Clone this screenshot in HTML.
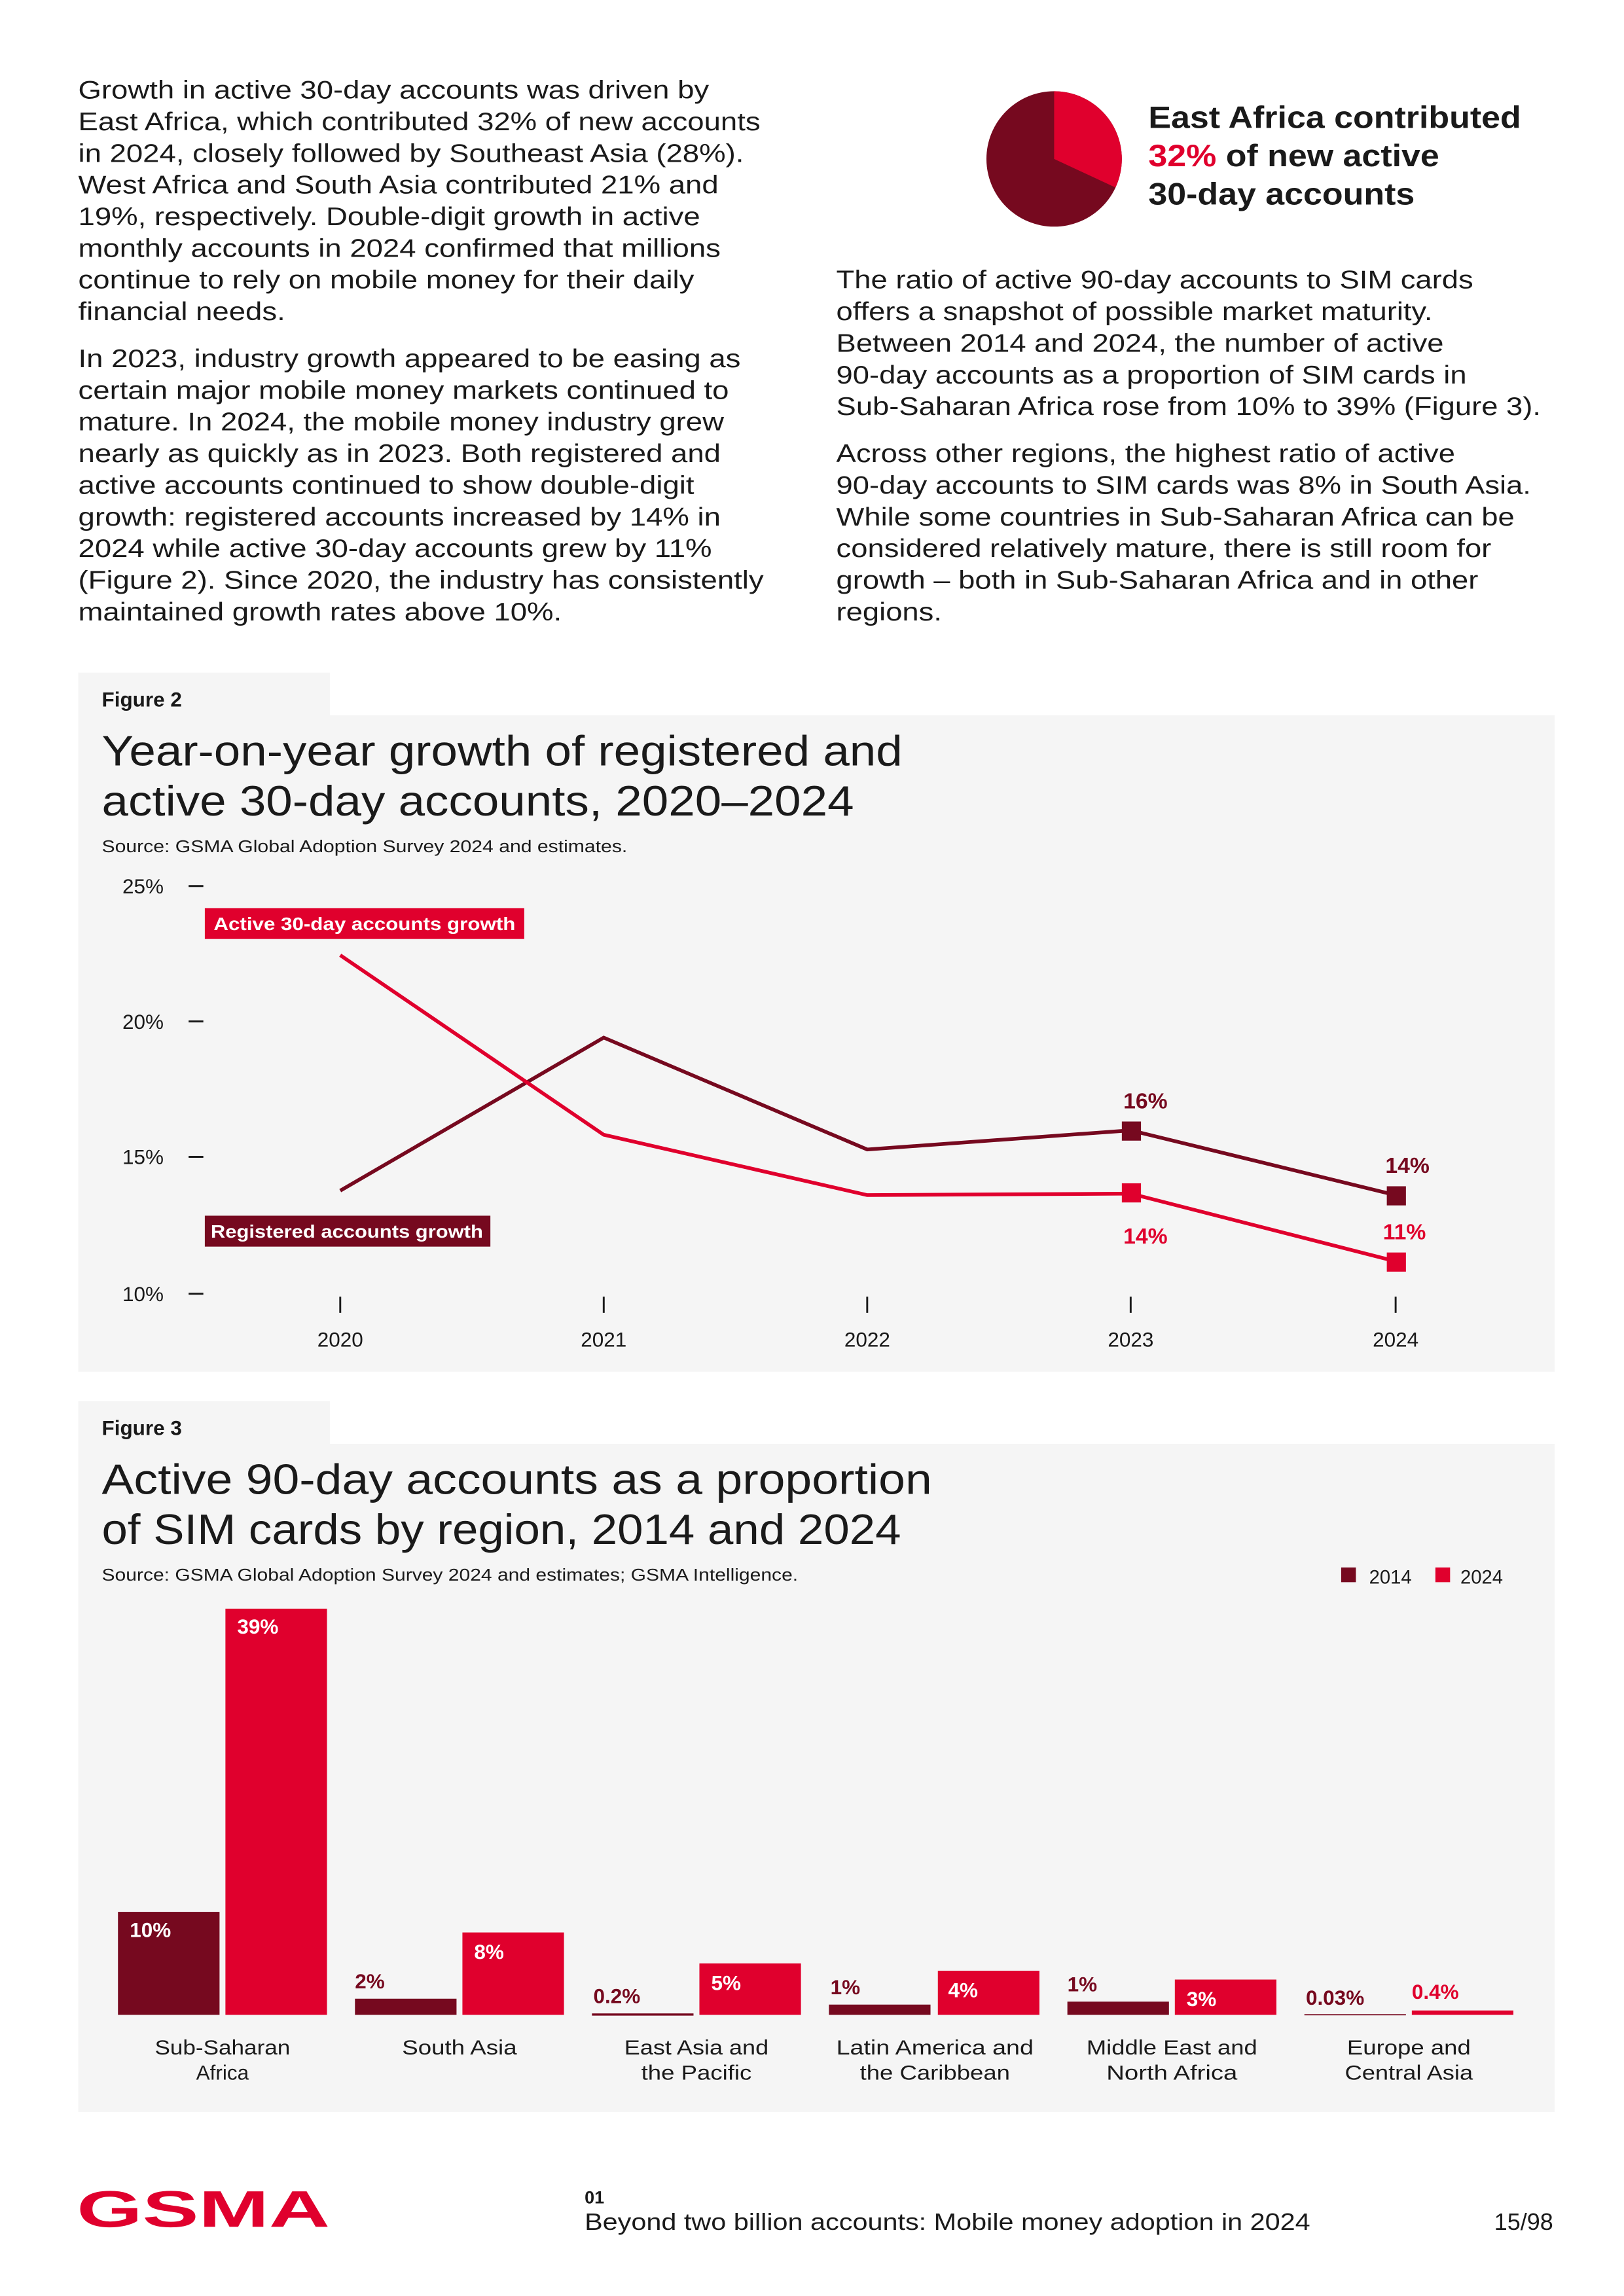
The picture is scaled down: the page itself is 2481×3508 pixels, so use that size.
<!DOCTYPE html>
<html><head><meta charset="utf-8"><style>
html,body{margin:0;padding:0;background:#fff}
svg{display:block}
text{font-family:"Liberation Sans",sans-serif}
</style></head><body>
<svg width="2481" height="3508" viewBox="0 0 1103 1560" xmlns="http://www.w3.org/2000/svg">
<rect width="1103" height="1560" fill="#fff"/>
<g font-size="17.3" fill="#1a1a1a" transform="matrix(1.17 0 0 1 -9.01 0)">
<text x="53" y="67">Growth in active 30-day accounts was driven by</text>
<text x="53" y="88.5">East Africa, which contributed 32% of new accounts</text>
<text x="53" y="110">in 2024, closely followed by Southeast Asia (28%).</text>
<text x="53" y="131.5">West Africa and South Asia contributed 21% and</text>
<text x="53" y="153">19%, respectively. Double-digit growth in active</text>
<text x="53" y="174.5">monthly accounts in 2024 confirmed that millions</text>
<text x="53" y="196">continue to rely on mobile money for their daily</text>
<text x="53" y="217.5">financial needs.</text>
<text x="53" y="249.5">In 2023, industry growth appeared to be easing as</text>
<text x="53" y="271">certain major mobile money markets continued to</text>
<text x="53" y="292.5">mature. In 2024, the mobile money industry grew</text>
<text x="53" y="314">nearly as quickly as in 2023. Both registered and</text>
<text x="53" y="335.5">active accounts continued to show double-digit</text>
<text x="53" y="357">growth: registered accounts increased by 14% in</text>
<text x="53" y="378.5">2024 while active 30-day accounts grew by 11%</text>
<text x="53" y="400">(Figure 2). Since 2020, the industry has consistently</text>
<text x="53" y="421.5">maintained growth rates above 10%.</text>
</g>
<g font-size="17.3" fill="#1a1a1a" transform="matrix(1.166 0 0 1 -94.3 0)">
<text x="568" y="196">The ratio of active 90-day accounts to SIM cards</text>
<text x="568" y="217.5">offers a snapshot of possible market maturity.</text>
<text x="568" y="239">Between 2014 and 2024, the number of active</text>
<text x="568" y="260.5">90-day accounts as a proportion of SIM cards in</text>
<text x="568" y="282">Sub-Saharan Africa rose from 10% to 39% (Figure 3).</text>
<text x="568" y="314">Across other regions, the highest ratio of active</text>
<text x="568" y="335.5">90-day accounts to SIM cards was 8% in South Asia.</text>
<text x="568" y="357">While some countries in Sub-Saharan Africa can be</text>
<text x="568" y="378.5">considered relatively mature, there is still room for</text>
<text x="568" y="400">growth – both in Sub-Saharan Africa and in other</text>
<text x="568" y="421.5">regions.</text>
</g>
<!-- pie -->
<circle cx="716" cy="108" r="46" fill="#76091f"/>
<path d="M716 108 L716 62 A46 46 0 0 1 757.7 127.4 Z" fill="#e0002d"/>
<g font-size="21" font-weight="bold" fill="#1a1a1a" transform="matrix(1.1 0 0 1 -78 0)">
<text x="780" y="87">East Africa contributed</text>
<text x="780" y="113"><tspan fill="#e0002d">32%</tspan> of new active</text>
<text x="780" y="139">30-day accounts</text>
</g>
<!-- Figure 2 -->
<rect x="53" y="457" width="171" height="30" fill="#f5f5f5"/>
<rect x="53" y="486" width="1003" height="446" fill="#f5f5f5"/>
<text x="69" y="480" font-size="14" font-weight="bold" fill="#1a1a1a">Figure 2</text>
<text x="69" y="520" font-size="29" fill="#1a1a1a" textLength="544" lengthAdjust="spacingAndGlyphs">Year-on-year growth of registered and</text>
<text x="69" y="554" font-size="29" fill="#1a1a1a" textLength="511" lengthAdjust="spacingAndGlyphs">active 30-day accounts, 2020–2024</text>
<text x="69" y="579" font-size="11.5" fill="#1a1a1a" textLength="357" lengthAdjust="spacingAndGlyphs">Source: GSMA Global Adoption Survey 2024 and estimates.</text>
<g font-size="14" fill="#1a1a1a" text-anchor="end">
<text x="111" y="607">25%</text><text x="111" y="699">20%</text><text x="111" y="791">15%</text><text x="111" y="884">10%</text>
</g>
<g stroke="#1a1a1a" stroke-width="1.3">
<line x1="128" x2="138" y1="602" y2="602"/><line x1="128" x2="138" y1="694" y2="694"/><line x1="128" x2="138" y1="786" y2="786"/><line x1="128" x2="138" y1="879" y2="879"/>
<line x1="231" x2="231" y1="881" y2="892"/><line x1="410" x2="410" y1="881" y2="892"/><line x1="589" x2="589" y1="881" y2="892"/><line x1="768" x2="768" y1="881" y2="892"/><line x1="948" x2="948" y1="881" y2="892"/>
</g>
<g font-size="14" fill="#1a1a1a" text-anchor="middle">
<text x="231" y="915">2020</text><text x="410" y="915">2021</text><text x="589" y="915">2022</text><text x="768" y="915">2023</text><text x="948" y="915">2024</text>
</g>
<polyline points="231,809 410,705 589,781 768,768 948,812" fill="none" stroke="#76091f" stroke-width="2.5"/>
<polyline points="231,649 410,771 589,812 768,811 948,857" fill="none" stroke="#e0002d" stroke-width="2.5"/>
<rect x="762" y="762" width="13" height="13" fill="#76091f"/>
<rect x="942" y="806" width="13" height="13" fill="#76091f"/>
<rect x="762" y="804" width="13" height="13" fill="#e0002d"/>
<rect x="942" y="851" width="13" height="13" fill="#e0002d"/>
<g font-size="15" font-weight="bold" text-anchor="middle">
<text x="778" y="753" fill="#76091f">16%</text>
<text x="956" y="797" fill="#76091f">14%</text>
<text x="778" y="845" fill="#e0002d">14%</text>
<text x="954" y="842" fill="#e0002d">11%</text>
</g>
<rect x="139" y="617" width="217" height="21" fill="#e0002d"/>
<text x="145" y="632" font-size="12.5" font-weight="bold" fill="#fff" textLength="205" lengthAdjust="spacingAndGlyphs">Active 30-day accounts growth</text>
<rect x="139" y="826" width="194" height="21" fill="#76091f"/>
<text x="143" y="841" font-size="12.5" font-weight="bold" fill="#fff" textLength="185" lengthAdjust="spacingAndGlyphs">Registered accounts growth</text>
<!-- Figure 3 -->
<rect x="53" y="952" width="171" height="30" fill="#f5f5f5"/>
<rect x="53" y="981" width="1003" height="454" fill="#f5f5f5"/>
<text x="69" y="975" font-size="14" font-weight="bold" fill="#1a1a1a">Figure 3</text>
<text x="69" y="1015" font-size="29" fill="#1a1a1a" textLength="564" lengthAdjust="spacingAndGlyphs">Active 90-day accounts as a proportion</text>
<text x="69" y="1049" font-size="29" fill="#1a1a1a" textLength="543" lengthAdjust="spacingAndGlyphs">of SIM cards by region, 2014 and 2024</text>
<text x="69" y="1074" font-size="11.5" fill="#1a1a1a" textLength="473" lengthAdjust="spacingAndGlyphs">Source: GSMA Global Adoption Survey 2024 and estimates; GSMA Intelligence.</text>
<rect x="911" y="1065" width="10" height="10" fill="#76091f"/>
<text x="930" y="1076" font-size="13" fill="#1a1a1a">2014</text>
<rect x="975" y="1065" width="10" height="10" fill="#e0002d"/>
<text x="992" y="1076" font-size="13" fill="#1a1a1a">2024</text>
<g fill="#76091f">
<rect x="80" y="1299" width="69" height="70"/>
<rect x="241" y="1358" width="69" height="11"/>
<rect x="402" y="1368" width="69" height="1.5"/>
<rect x="563" y="1362" width="69" height="7"/>
<rect x="725" y="1360" width="69" height="9"/>
<rect x="886" y="1368.5" width="69" height="0.8"/>
</g>
<g fill="#e0002d">
<rect x="153" y="1093" width="69" height="276"/>
<rect x="314" y="1313" width="69" height="56"/>
<rect x="475" y="1334" width="69" height="35"/>
<rect x="637" y="1339" width="69" height="30"/>
<rect x="798" y="1345" width="69" height="24"/>
<rect x="959" y="1366" width="69" height="3"/>
</g>
<g font-size="14" font-weight="bold" fill="#fff">
<text x="161" y="1110">39%</text><text x="88" y="1316">10%</text><text x="322" y="1331">8%</text>
<text x="483" y="1352">5%</text><text x="644" y="1357">4%</text><text x="806" y="1363">3%</text>
</g>
<g font-size="14" font-weight="bold" fill="#76091f">
<text x="241" y="1351">2%</text><text x="403" y="1361">0.2%</text><text x="564" y="1355">1%</text>
<text x="725" y="1353">1%</text><text x="887" y="1362">0.03%</text>
</g>
<text x="959" y="1358" font-size="14" font-weight="bold" fill="#e0002d">0.4%</text>
<g font-size="14" fill="#1a1a1a" text-anchor="middle">
<text x="151" y="1396" textLength="92" lengthAdjust="spacingAndGlyphs">Sub-Saharan</text><text x="151" y="1413">Africa</text>
<text x="312" y="1396" textLength="78" lengthAdjust="spacingAndGlyphs">South Asia</text>
<text x="473" y="1396" textLength="98" lengthAdjust="spacingAndGlyphs">East Asia and</text><text x="473" y="1413" textLength="75" lengthAdjust="spacingAndGlyphs">the Pacific</text>
<text x="635" y="1396" textLength="134" lengthAdjust="spacingAndGlyphs">Latin America and</text><text x="635" y="1413" textLength="102" lengthAdjust="spacingAndGlyphs">the Caribbean</text>
<text x="796" y="1396" textLength="116" lengthAdjust="spacingAndGlyphs">Middle East and</text><text x="796" y="1413" textLength="89" lengthAdjust="spacingAndGlyphs">North Africa</text>
<text x="957" y="1396" textLength="84" lengthAdjust="spacingAndGlyphs">Europe and</text><text x="957" y="1413" textLength="87" lengthAdjust="spacingAndGlyphs">Central Asia</text>
</g>
<!-- footer -->
<text x="52" y="1513" font-size="35" font-weight="bold" fill="#e0002d" textLength="172" lengthAdjust="spacingAndGlyphs">GSMA</text>
<text x="397" y="1497" font-size="12" font-weight="bold" fill="#1a1a1a">01</text>
<text x="397" y="1515" font-size="16" fill="#1a1a1a" textLength="493" lengthAdjust="spacingAndGlyphs">Beyond two billion accounts: Mobile money adoption in 2024</text>
<text x="1055" y="1515" font-size="16" fill="#1a1a1a" text-anchor="end">15/98</text>
</svg>
</body></html>
